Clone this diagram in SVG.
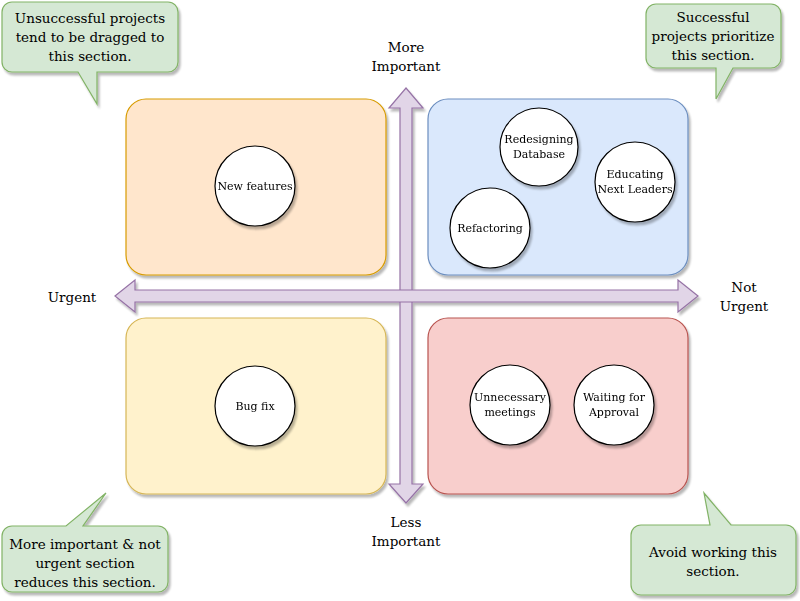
<svg xmlns="http://www.w3.org/2000/svg" width="800" height="601" viewBox="0 0 800 601">
<defs>
<filter id="sh" x="-10%" y="-10%" width="130%" height="130%">
<feGaussianBlur in="SourceAlpha" stdDeviation="0.8"/>
<feOffset dx="2" dy="3" result="o"/>
<feComponentTransfer><feFuncA type="linear" slope="0.28"/></feComponentTransfer>
<feMerge><feMergeNode/><feMergeNode in="SourceGraphic"/></feMerge>
</filter>
</defs>
<style>
text{font-family:"DejaVu Serif","Liberation Serif",serif;fill:#000;text-anchor:middle}
.lbl{font-size:13.5px}
.c{font-size:11px}
.circ{fill:#fff;stroke:#000;stroke-width:1.2}
.call{fill:#d5e8d4;stroke:#82b366;stroke-width:1.2}
.arr{fill:#e1d5e7;stroke:#9673a6;stroke-width:1.2}
</style>
<rect width="800" height="601" fill="#fff"/>
<g id="quadrants" filter="url(#sh)">
<rect id="q-urgent-important" x="126" y="99" width="260" height="176" rx="20" fill="#ffe6cc" stroke="#d79b00" stroke-width="1.2"/>
<rect id="q-noturgent-important" x="428" y="99" width="260" height="176" rx="20" fill="#dae8fc" stroke="#6c8ebf" stroke-width="1.2"/>
<rect id="q-urgent-less" x="126" y="318" width="260" height="176" rx="20" fill="#fff2cc" stroke="#d6b656" stroke-width="1.2"/>
<rect id="q-noturgent-less" x="428" y="318" width="260" height="176" rx="20" fill="#f8cecc" stroke="#b85450" stroke-width="1.2"/>
</g>
<g id="connectors" filter="url(#sh)">
<polygon class="arr" points="406,88 423,108 412,108 412,484 423,484 406,503 389,484 400,484 400,108 389,108"/>
<polygon class="arr" points="115,296 135,280 135,290 678,290 678,280 698,296 678,312 678,302 135,302 135,312"/>
</g>
<g id="axis-labels" class="lbl">
<text x="406" y="52">More</text>
<text x="406" y="71">Important</text>
<text x="406" y="527">Less</text>
<text x="406" y="546">Important</text>
<text x="72" y="302">Urgent</text>
<text x="744" y="292">Not</text>
<text x="744" y="311">Urgent</text>
</g>
<g id="n-new-features" filter="url(#sh)"><circle class="circ" cx="255" cy="186" r="40"/><text class="c" x="255" y="190">New features</text></g>
<g id="n-redesigning" filter="url(#sh)"><circle class="circ" cx="539" cy="147" r="39"/><text class="c" x="539" y="143">Redesigning</text><text class="c" x="539" y="158">Database</text></g>
<g id="n-educating" filter="url(#sh)"><circle class="circ" cx="635" cy="182" r="40"/><text class="c" x="635" y="178">Educating</text><text class="c" x="635" y="193">Next Leaders</text></g>
<g id="n-refactoring" filter="url(#sh)"><circle class="circ" cx="490" cy="228" r="40"/><text class="c" x="490" y="232">Refactoring</text></g>
<g id="n-bug-fix" filter="url(#sh)"><circle class="circ" cx="255" cy="406" r="40"/><text class="c" x="255" y="410">Bug fix</text></g>
<g id="n-unnecessary" filter="url(#sh)"><circle class="circ" cx="510" cy="405" r="40"/><text class="c" x="510" y="401">Unnecessary</text><text class="c" x="510" y="416">meetings</text></g>
<g id="n-waiting" filter="url(#sh)"><circle class="circ" cx="614" cy="405" r="40"/><text class="c" x="614" y="401">Waiting for</text><text class="c" x="614" y="416">Approval</text></g>
<g id="callout-tl"><path class="call" filter="url(#sh)" d="M12,2 H168 A10,10 0 0 1 178,12 V62 A10,10 0 0 1 168,72 H97 V104 L78,72 H12 A10,10 0 0 1 2,62 V12 A10,10 0 0 1 12,2 Z"/><text class="lbl" x="90" y="23">Unsuccessful projects</text><text class="lbl" x="90" y="42">tend to be dragged to</text><text class="lbl" x="90" y="61">this section.</text></g>
<g id="callout-tr"><path class="call" filter="url(#sh)" d="M656,4 H771 A10,10 0 0 1 781,14 V58 A10,10 0 0 1 771,68 H733 L716,99 V68 H656 A10,10 0 0 1 646,58 V14 A10,10 0 0 1 656,4 Z"/><text class="lbl" x="713" y="22">Successful</text><text class="lbl" x="713" y="41">projects prioritize</text><text class="lbl" x="713" y="60">this section.</text></g>
<g id="callout-bl"><path class="call" filter="url(#sh)" d="M12,526 H66 L106,493 L83,526 H158 A10,10 0 0 1 168,536 V582 A10,10 0 0 1 158,592 H12 A10,10 0 0 1 2,582 V536 A10,10 0 0 1 12,526 Z"/><text class="lbl" x="85" y="549">More important &amp; not</text><text class="lbl" x="85" y="568">urgent section</text><text class="lbl" x="85" y="587">reduces this section.</text></g>
<g id="callout-br"><path class="call" filter="url(#sh)" d="M641,525 H710 L704,493 L731,525 H786 A10,10 0 0 1 796,535 V585 A10,10 0 0 1 786,595 H641 A10,10 0 0 1 631,585 V535 A10,10 0 0 1 641,525 Z"/><text class="lbl" x="713" y="557">Avoid working this</text><text class="lbl" x="713" y="576">section.</text></g>
</svg>
